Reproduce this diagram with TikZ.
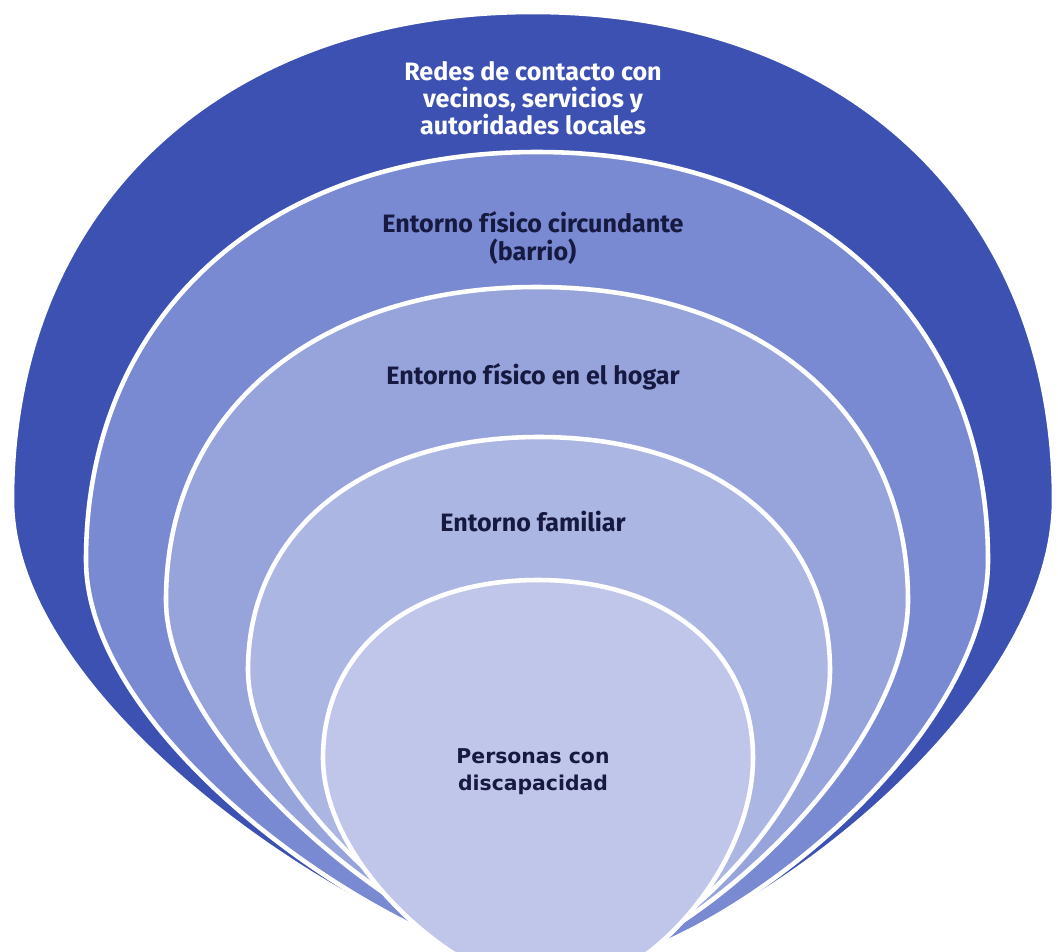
\documentclass[tikz,border=0pt]{standalone}
\usepackage{fontspec}
\setmainfont{Fira Sans}
\newfontfamily\innerfont{DejaVu Sans}
\usepackage{tikz}

\definecolor{ringA}{RGB}{61,81,178}
\definecolor{ringB}{RGB}{121,137,210}
\definecolor{ringC}{RGB}{151,163,219}
\definecolor{ringD}{RGB}{172,182,227}
\definecolor{ringE}{RGB}{192,197,234}
\definecolor{navy}{RGB}{22,26,64}

% colour, cx, cy, a, b, drop, spread, tip x, tip y
\newcommand{\ringshape}[9]{%
    \filldraw[ring=#1] ({#2-#4},{#3})
        .. controls ({#2-#4},{#3-0.6*#5}) and ({#2-0.6*#4},{#3-#5}) .. ({#2},{#3-#5})
        .. controls ({#2+0.6*#4},{#3-#5}) and ({#2+#4},{#3-0.6*#5}) .. ({#2+#4},{#3})
        .. controls ({#2+#4},{#3+#6}) and ({#8+#7},{#9}) .. ({#8},{#9})
        .. controls ({#8-#7},{#9}) and ({#2-#4},{#3+#6}) .. cycle;}

\begin{document}
\begin{tikzpicture}[
        x=0.02cm, y=-0.02cm,          % pixel grid, y downwards
        ring/.style={
            fill=#1,
            draw=white,
            line width=2.6pt,
            line join=round
        },
        every node/.style={
            align=center,
            inner sep=0pt,
            font=\fontsize{14.3}{15.4}\selectfont\bfseries
        },
        dark/.style={text=navy},
        light/.style={text=white}
    ]
        \useasboundingbox (0,0) rectangle (1058,951);
        \clip (0,0) rectangle (1058,951);

        % anillos
        \ringshape{ringA}{533}{500}{521}{488}{220}{150}{560}{970}
        \ringshape{ringB}{537}{560}{451}{408}{190}{140}{560}{970}
        \ringshape{ringC}{537}{600}{371}{313}{160}{110}{560}{970}
        \ringshape{ringD}{539}{670}{291}{233}{130}{100}{560}{972}
        \ringshape{ringE}{538}{758}{215}{178}{110}{90}{555}{990}

        % textos
        \node[light] (redes) at (533,98)
            {Redes de contacto con\\vecinos, servicios y\\autoridades locales};
        \node[dark] (barrio) at (533,238) {Entorno físico circundante\\(barrio)};
        \node[dark] (hogar) at (533,377) {Entorno físico en el hogar};
        \node[dark] (familia) at (533,522) {Entorno familiar};
        \node[dark, font=\innerfont\fontsize{11.6}{15.4}\selectfont\bfseries]
            (personas) at (533,772) {Personas con\\discapacidad};
    \end{tikzpicture}
\end{document}
